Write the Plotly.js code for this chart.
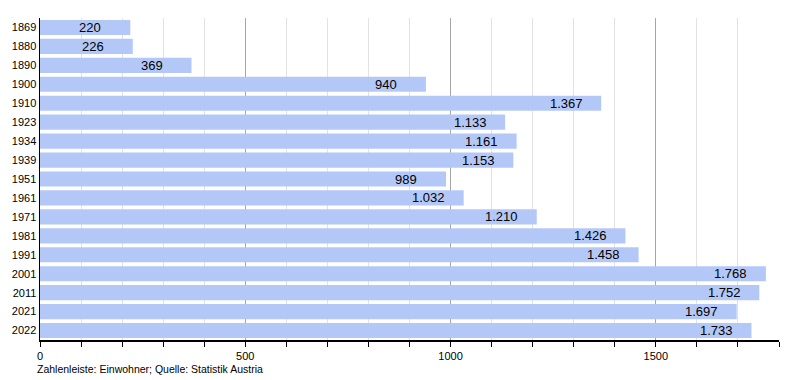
<!DOCTYPE html>
<html>
<head>
<meta charset="utf-8">
<script src="https://cdn.plot.ly/plotly-3.0.1.min.js"></script>
<style>html,body{margin:0;padding:0;background:#fff;}#chart{width:800px;height:380px;}</style>
</head>
<body>
<div id="chart"></div>
<script>
var years = ["1869","1880","1890","1900","1910","1923","1934","1939","1951","1961","1971","1981","1991","2001","2011","2021","2022"];
var population = [220,226,369,940,1367,1133,1161,1153,989,1032,1210,1426,1458,1768,1752,1697,1733];
var xTicks = [0,500,1000,1500];
var footer = "Zahlenleiste: Einwohner; Quelle: Statistik Austria";

function fmt(v){
  var s = String(v);
  return s.length > 3 ? s.slice(0, s.length-3) + "." + s.slice(s.length-3) : s;
}

var rows = years.map(function(_, i){ return i; });

var annotations = rows.map(function(i){
  var txt = fmt(population[i]);
  return {x: population[i], y: i, xref:'x', yref:'y', text: txt,
    showarrow:false, xanchor:'center', yanchor:'middle', xshift: txt.length > 3 ? -35 : -40,
    font:{family:'Liberation Sans, Arial, sans-serif', size:13, color:'#000'}};
});
annotations.push({xref:'paper', yref:'paper', x:-0.007, y:-0.066, xanchor:'left', yanchor:'top',
  showarrow:false, text: footer,
  font:{family:'Liberation Sans, Arial, sans-serif', size:10.5, color:'#000'}});

var trace = {
  type:'bar', orientation:'h', x: population, y: rows,
  marker:{color:'#b4c8f8', line:{width:0}},
  width:0.8, hoverinfo:'none'
};

var layout = {
  width:800, height:380,
  margin:{l:40, r:21, t:18, b:40},
  paper_bgcolor:'#fff', plot_bgcolor:'#fff',
  showlegend:false,
  font:{family:'Liberation Sans, Arial, sans-serif', size:11, color:'#000'},
  xaxis:{range:[0,1800], tickvals:xTicks, ticktext:xTicks.map(String),
    showgrid:true, gridcolor:'#a6a6a6', gridwidth:1,
    ticks:'outside', ticklen:5, tickcolor:'#000',
    showline:true, linecolor:'#000', linewidth:1.5, zeroline:false,
    tickfont:{size:11},
    minor:{dtick:100, tick0:0, showgrid:true, gridcolor:'#e2e2e2', ticks:'outside', ticklen:5, tickcolor:'#000'}},
  yaxis:{range:[years.length-0.5, -0.5], tickvals:rows, ticktext:years, showgrid:false,
    showline:true, linecolor:'#000', linewidth:1.5, ticks:'', ticklen:0,
    tickfont:{size:11}, zeroline:false},
  annotations: annotations
};

Plotly.newPlot('chart', [trace], layout, {staticPlot:true, displayModeBar:false});
</script>
</body>
</html>
